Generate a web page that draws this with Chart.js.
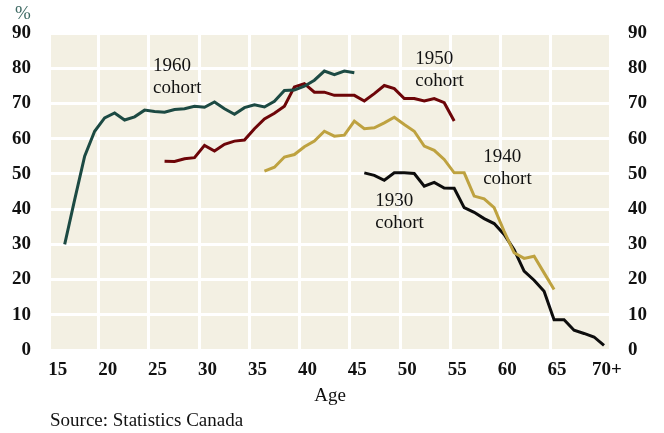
<!DOCTYPE html>
<html>
<head>
<meta charset="utf-8">
<script src="https://cdn.jsdelivr.net/npm/chart.js@4/dist/chart.umd.min.js"></script>
<style>
  html, body { margin: 0; padding: 0; background: #fff; }
  #wrap { width: 664px; height: 433px; position: relative; }
</style>
</head>
<body>
<div id="wrap"><canvas id="cohortChart"></canvas></div>
<script>
"use strict";

// ages on the x axis
const ages1960 = [16,17,18,19,20,21,22,23,24,25,26,27,28,29,30,31,32,33,34,35,36,37,38,39,40,41,42,43,44,45];
const ages1950 = [26,27,28,29,30,31,32,33,34,35,36,37,38,39,40,41,42,43,44,45,46,47,48,49,50,51,52,53,54,55];
const ages1940 = [36,37,38,39,40,41,42,43,44,45,46,47,48,49,50,51,52,53,54,55,56,57,58,59,60,61,62,63,64,65];
const ages1930 = [46,47,48,49,50,51,52,53,54,55,56,57,58,59,60,61,62,63,64,65,66,67,68,69,70];

// participation rate, %
const values1960 = [30,42.7,55,62.1,65.9,67.3,65.3,66.2,68.1,67.7,67.5,68.3,68.5,69.2,68.9,70.4,68.5,66.9,68.8,69.6,69.0,70.6,73.7,73.8,74.9,76.6,79.2,78.2,79.2,78.7];
const values1950 = [53.6,53.5,54.3,54.6,58.1,56.5,58.4,59.3,59.6,62.8,65.6,67.2,69.2,74.7,75.6,73.2,73.2,72.3,72.3,72.3,70.7,72.8,75.1,74.2,71.4,71.4,70.7,71.4,70.2,65.0];
const values1940 = [50.8,51.9,54.8,55.5,57.7,59.3,62.1,60.7,61.0,65.0,62.8,63.1,64.5,66.1,64.0,62.1,57.9,56.7,54.1,50.3,50.3,43.7,42.9,40.4,33.7,27.6,26.0,26.6,21.9,17.2];
const values1930 = [50.3,49.6,48.2,50.3,50.3,50.1,46.5,47.6,46.0,45.9,40.4,39.1,37.3,35.9,32.8,28.5,22.4,19.8,16.7,8.6,8.6,5.6,4.7,3.7,1.3];

const xTicks = [15,20,25,30,35,40,45,50,55,60,65,70];
const yTicks = [0,10,20,30,40,50,60,70,80,90];

// cohort labels: [text lines, age, value]
const cohortLabels = [
    [['1960', 'cohort'], 24.85, 80.5],
    [['1950', 'cohort'], 51.1, 82.5],
    [['1940', 'cohort'], 57.9, 54.9],
    [['1930', 'cohort'], 47.1, 42.4],
];

const serif = "'Liberation Serif', 'DejaVu Serif', serif";
const xMin = 14.63;
const xMax = 70.5;

const toPoints = (xs, ys) => xs.map((x, i) => ({x: x, y: ys[i]}));

const backdrop = {
    id: 'backdrop',
    beforeDraw(chart) {
        const {ctx, chartArea} = chart;
        ctx.save();
        ctx.fillStyle = '#f3f0e3';
        ctx.fillRect(chartArea.left, chartArea.top, chartArea.right - chartArea.left, chartArea.bottom - chartArea.top);
        ctx.restore();
    },
    afterDraw(chart) {
        const {ctx} = chart;
        const xs = chart.scales.x;
        const ys = chart.scales.y;
        ctx.save();
        ctx.textBaseline = 'middle';
        ctx.textAlign = 'left';
        ctx.fillStyle = '#111';
        ctx.font = '19px ' + serif;
        cohortLabels.forEach(lab => {
            const px = xs.getPixelForValue(lab[1]);
            const py = ys.getPixelForValue(lab[2]);
            lab[0].forEach((t, i) => ctx.fillText(t, px, py + i * 22));
        });
        // unit
        ctx.fillStyle = '#3f6a64';
        ctx.textAlign = 'center';
        ctx.fillText('%', 23, 14);
        // source
        ctx.fillStyle = '#111';
        ctx.textAlign = 'left';
        ctx.fillText('Source: Statistics Canada', 50, 421);
        ctx.restore();
    }
};

const lineSet = (label, data, color) => ({
    label: label,
    data: data,
    borderColor: color,
    borderWidth: 3,
    pointRadius: 0,
    tension: 0,
    fill: false,
    xAxisID: 'x',
    yAxisID: 'y',
});

const ctx = document.getElementById('cohortChart').getContext('2d');
const chart = new Chart(ctx, {
    type: 'line',
    data: {
        datasets: [
            lineSet('1960 cohort', toPoints(ages1960, values1960), '#1c4a43'),
            lineSet('1950 cohort', toPoints(ages1950, values1950), '#6d0508'),
            lineSet('1940 cohort', toPoints(ages1940, values1940), '#bea240'),
            lineSet('1930 cohort', toPoints(ages1930, values1930), '#0d0d0d'),
        ]
    },
    options: {
        responsive: true,
        maintainAspectRatio: false,
        animation: false,
        layout: { padding: { top: 33, left: 0, right: 0, bottom: 0 } },
        plugins: {
            legend: { display: false },
            tooltip: { enabled: false },
            title: { display: false },
        },
        scales: {
            x: {
                type: 'linear',
                position: 'bottom',
                min: xMin,
                max: xMax,
                afterBuildTicks: (scale) => {
                    const t = [];
                    for (let i = 0; i < 10; i++) t.push({value: 19.4 + 5.03 * i});
                    scale.ticks = t;
                },
                afterFit: (scale) => { scale.height = 0; },
                ticks: { display: false },
                grid: { color: '#ffffff', lineWidth: 3, drawTicks: false },
                border: { display: false },
            },
            xl: {
                type: 'linear',
                position: 'bottom',
                min: xMin,
                max: xMax,
                afterBuildTicks: (scale) => {
                    scale.ticks = xTicks.map(v => ({value: v}));
                },
                afterFit: (scale) => { scale.height = 83; },
                ticks: {
                    padding: 1,
                    labelOffset: 3,
                    maxRotation: 0,
                    autoSkip: false,
                    color: '#111',
                    font: { family: serif, size: 19, weight: 'bold' },
                    callback: (v) => v === 70 ? '70+' : String(v),
                },
                title: {
                    display: true,
                    text: 'Age',
                    color: '#111',
                    font: { family: serif, size: 19 },
                    padding: { top: 0, bottom: 26 },
                },
                grid: { display: false },
                border: { display: false },
            },
            y: {
                position: 'left',
                min: 0,
                max: 90,
                afterBuildTicks: (scale) => {
                    scale.ticks = yTicks.map(v => ({value: v}));
                },
                afterFit: (scale) => { scale.width = 51; },
                ticks: {
                    padding: 20,
                    color: '#111',
                    font: { family: serif, size: 19, weight: 'bold' },
                },
                grid: { color: '#ffffff', lineWidth: 3, drawTicks: false },
                border: { display: false },
            },
            y2: {
                position: 'right',
                min: 0,
                max: 90,
                afterBuildTicks: (scale) => {
                    scale.ticks = yTicks.map(v => ({value: v}));
                },
                afterFit: (scale) => { scale.width = 55; },
                ticks: {
                    padding: 19,
                    color: '#111',
                    font: { family: serif, size: 19, weight: 'bold' },
                },
                grid: { display: false, drawTicks: false },
                border: { display: false },
            },
        }
    },
    plugins: [backdrop],
});
</script>
</body>
</html>
